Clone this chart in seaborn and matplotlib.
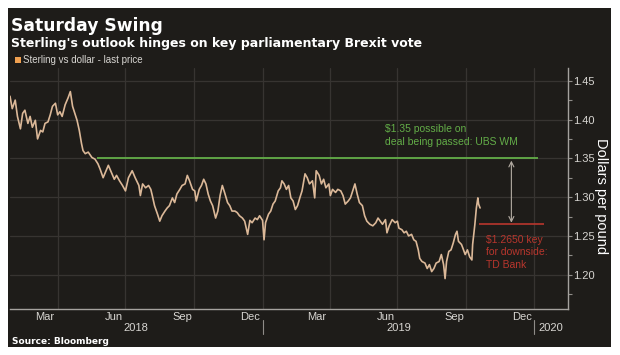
import pandas as pd
import numpy as np
import matplotlib.pyplot as plt
import matplotlib.dates as mdates
import matplotlib.ticker as mticker
import matplotlib.transforms as mtransforms
from matplotlib.patches import Rectangle
import seaborn as sns

# GBP/USD, days counted from 2018-01-01
days = [26, 29, 33, 36, 40, 43, 46, 50, 53, 56,
        60, 63, 67, 70, 73, 77, 80, 83, 87, 90,
        93, 96, 100, 104, 107, 110, 113, 116, 119, 122,
        124, 127, 131, 136, 140, 144, 147, 151, 155, 158,
        162, 166, 169, 173, 177, 181, 185, 190, 194, 199,
        201, 204, 208, 212, 215, 217, 220, 224, 227, 230,
        234, 237, 240, 244, 247, 250, 254, 257, 261, 264,
        267, 271, 274, 276, 280, 283, 286, 289, 292, 295,
        298, 302, 305, 308, 311, 314, 318, 321, 324, 328,
        331, 334, 338, 341, 345, 348, 351, 355, 358, 361,
        365, 367, 369, 373, 376, 379, 382, 386, 389, 391,
        394, 397, 400, 403, 406, 409, 412, 415, 418, 422,
        425, 428, 432, 435, 437, 441, 444, 447, 450, 454,
        456, 459, 463, 466, 470, 473, 476, 480, 483, 486,
        489, 492, 495, 499, 502, 505, 509, 513, 517, 520,
        523, 526, 530, 532, 535, 539, 543, 546, 548, 552,
        555, 558, 561, 565, 568, 571, 574, 576, 579, 583,
        586, 589, 592, 595, 598, 602, 605, 608, 610, 612,
        615, 618, 621, 624, 626, 628, 632, 634, 637, 640,
        643, 646, 647, 650, 652, 654, 655, 657]
price = [1.430, 1.414, 1.425, 1.404, 1.388, 1.408, 1.412, 1.395, 1.404, 1.390,
         1.399, 1.375, 1.386, 1.384, 1.395, 1.397, 1.406, 1.417, 1.421, 1.406,
         1.410, 1.404, 1.419, 1.428, 1.436, 1.417, 1.408, 1.399, 1.386, 1.369,
         1.360, 1.356, 1.358, 1.351, 1.349, 1.343, 1.336, 1.325, 1.334, 1.341,
         1.332, 1.323, 1.328, 1.321, 1.315, 1.308, 1.325, 1.334, 1.325, 1.315,
         1.302, 1.317, 1.312, 1.315, 1.310, 1.302, 1.289, 1.278, 1.269, 1.276,
         1.282, 1.286, 1.289, 1.299, 1.293, 1.304, 1.310, 1.315, 1.317, 1.328,
         1.321, 1.310, 1.308, 1.295, 1.310, 1.315, 1.323, 1.317, 1.304, 1.295,
         1.289, 1.273, 1.282, 1.302, 1.315, 1.306, 1.293, 1.289, 1.282, 1.282,
         1.280, 1.276, 1.273, 1.269, 1.252, 1.270, 1.267, 1.273, 1.271, 1.276,
         1.270, 1.245, 1.267, 1.278, 1.282, 1.291, 1.295, 1.308, 1.312, 1.321,
         1.317, 1.310, 1.315, 1.299, 1.295, 1.284, 1.289, 1.299, 1.308, 1.330,
         1.325, 1.317, 1.321, 1.299, 1.334, 1.328, 1.317, 1.323, 1.312, 1.317,
         1.302, 1.310, 1.306, 1.310, 1.308, 1.302, 1.291, 1.295, 1.299, 1.308,
         1.317, 1.304, 1.293, 1.289, 1.276, 1.269, 1.265, 1.263, 1.267, 1.273,
         1.269, 1.265, 1.271, 1.254, 1.263, 1.271, 1.267, 1.269, 1.260, 1.258,
         1.254, 1.256, 1.250, 1.252, 1.245, 1.243, 1.232, 1.221, 1.217, 1.215,
         1.208, 1.213, 1.204, 1.208, 1.215, 1.217, 1.226, 1.213, 1.195, 1.217,
         1.230, 1.232, 1.241, 1.252, 1.256, 1.243, 1.239, 1.234, 1.226, 1.232,
         1.223, 1.219, 1.239, 1.265, 1.286, 1.299, 1.291, 1.286]

# analyst levels
ubs_level = 1.35
ubs_start, ubs_end = "2018-05-24", "2020-01-06"
td_level = 1.265
td_start, td_end = "2019-10-18", "2020-01-14"
arrow_date = "2019-12-01"
ubs_text = "$1.35 possible on\ndeal being passed: UBS WM"
td_text = "$1.2650 key\nfor downside:\nTD Bank"

month_labels = ["Mar", "Jun", "Sep", "Dec", "Mar", "Jun", "Sep", "Dec"]
month_dates = ["2018-03-15", "2018-06-15", "2018-09-15", "2018-12-15",
               "2019-03-15", "2019-06-15", "2019-09-15", "2019-12-15"]
years = ["2018", "2019", "2020"]

df = pd.DataFrame({"date": pd.Timestamp("2018-01-01") + pd.to_timedelta(days, unit="D"),
                   "price": price})

bg = "#1e1c19"
grid_c = "#373431"
light = "#d8d6d2"
green = "#63ad48"
red = "#b8362d"

sns.set_theme(style="dark")
plt.rcParams['font.family'] = ['Liberation Sans', 'DejaVu Sans']

fig = plt.figure(figsize=(6.2, 3.55), dpi=100, facecolor="white")
fig.patches.append(Rectangle((8 / 620, 1 - 347 / 355), 603 / 620, 339 / 355,
                             transform=fig.transFigure, facecolor=bg,
                             edgecolor="none", zorder=-10))
ax = fig.add_axes([10 / 620, 1 - 309 / 355, 558 / 620, 241 / 355])
ax.set_facecolor(bg)

sns.lineplot(data=df, x="date", y="price", ax=ax, color="#dbb898",
             linewidth=1.2, zorder=3)

ax.hlines(ubs_level, pd.Timestamp(ubs_start), pd.Timestamp(ubs_end),
          color=green, linewidth=1.3, zorder=4)
ax.hlines(td_level, pd.Timestamp(td_start), pd.Timestamp(td_end),
          color=red, linewidth=1.2, zorder=4)
ad = mdates.date2num(pd.Timestamp(arrow_date))
ax.annotate("", xy=(ad, ubs_level - 0.003), xytext=(ad, td_level + 0.002),
            arrowprops=dict(arrowstyle="<->", color="#b3aba2", lw=0.8,
                            shrinkA=0, shrinkB=0, mutation_scale=9), zorder=4)
ax.text(pd.Timestamp("2019-06-14"), 1.379, ubs_text, color=green, fontsize=7.5,
        ha="left", va="center", linespacing=1.35)
ax.text(pd.Timestamp("2019-10-28"), 1.229, td_text, color=red, fontsize=7.5,
        ha="left", va="center", linespacing=1.3)

x_left, x_right = pd.Timestamp("2018-01-27"), pd.Timestamp("2020-02-15")
ax.set_xlim(x_left, x_right)
ax.set_ylim(1.1558, 1.4664)

# axes and grid
ax.xaxis.set_major_locator(mdates.MonthLocator(bymonth=[1, 4, 7, 10]))
ax.xaxis.set_minor_locator(mdates.MonthLocator())
ax.xaxis.set_major_formatter(mticker.NullFormatter())
ax.tick_params(axis="x", which="major", length=0)
ax.tick_params(axis="x", which="minor", length=3, direction="inout",
               color="#8f8c88", width=0.8)
ax.yaxis.tick_right()
ax.yaxis.set_major_locator(mticker.MultipleLocator(0.05))
ax.yaxis.set_minor_locator(mticker.MultipleLocator(0.025))
ax.yaxis.set_major_formatter(mticker.FormatStrFormatter("%.2f"))
ax.tick_params(axis="y", which="both", direction="out", length=3, width=0.8,
               color="#8f8c88", labelcolor=light, labelsize=8, pad=1)
ax.grid(True, which="major", color=grid_c, linewidth=0.9)
ax.set_xlabel("")
ax.set_ylabel("")
for side in ["top", "left"]:
    ax.spines[side].set_visible(False)
for side in ["right", "bottom"]:
    ax.spines[side].set_visible(True)
    ax.spines[side].set_color("#a5a29e")
    ax.spines[side].set_linewidth(1.0)

trans = mtransforms.blended_transform_factory(ax.transData, ax.transAxes)
for lab, d in zip(month_labels, month_dates):
    ax.text(pd.Timestamp(d), -0.035, lab, transform=trans, color=light,
            fontsize=8, ha="center", va="center")
year_bounds = [x_left, pd.Timestamp("2019-01-01"), pd.Timestamp("2020-01-01"), x_right]
for i, yr in enumerate(years):
    mid = year_bounds[i] + (year_bounds[i + 1] - year_bounds[i]) / 2
    ax.text(mid, -0.08, yr, transform=trans, color=light, fontsize=8,
            ha="center", va="center")
for b in year_bounds[1:3]:
    ax.plot([b, b], [-0.045, -0.105], transform=trans, color="#8f8c88",
            linewidth=0.8, clip_on=False)

fig.text(601 / 620, 1 - 196 / 355, "Dollars per pound", rotation=270,
         color="white", fontsize=10.5, ha="center", va="center")

# titles and legend
fig.text(11 / 620, 1 - 31 / 355, "Saturday Swing", color="white", fontsize=12.3,
         fontweight="bold", family="DejaVu Sans", va="baseline")
fig.text(11 / 620, 1 - 47 / 355,
         "Sterling's outlook hinges on key parliamentary Brexit vote",
         color="white", fontsize=9, fontweight="bold", family="DejaVu Sans",
         va="baseline")
fig.patches.append(Rectangle((15 / 620, 1 - 63 / 355), 6 / 620, 6 / 355,
                             transform=fig.transFigure, facecolor="#f0a050",
                             edgecolor="none"))
fig.text(23 / 620, 1 - 60 / 355, "Sterling vs dollar - last price",
         color=light, fontsize=7, va="center")
fig.text(12 / 620, 1 - 341 / 355, "Source: Bloomberg", color="white",
         fontsize=6.5, fontweight="bold", family="DejaVu Sans", va="center")

fig.savefig("out.png", dpi=100, facecolor=fig.get_facecolor())
plt.close()
